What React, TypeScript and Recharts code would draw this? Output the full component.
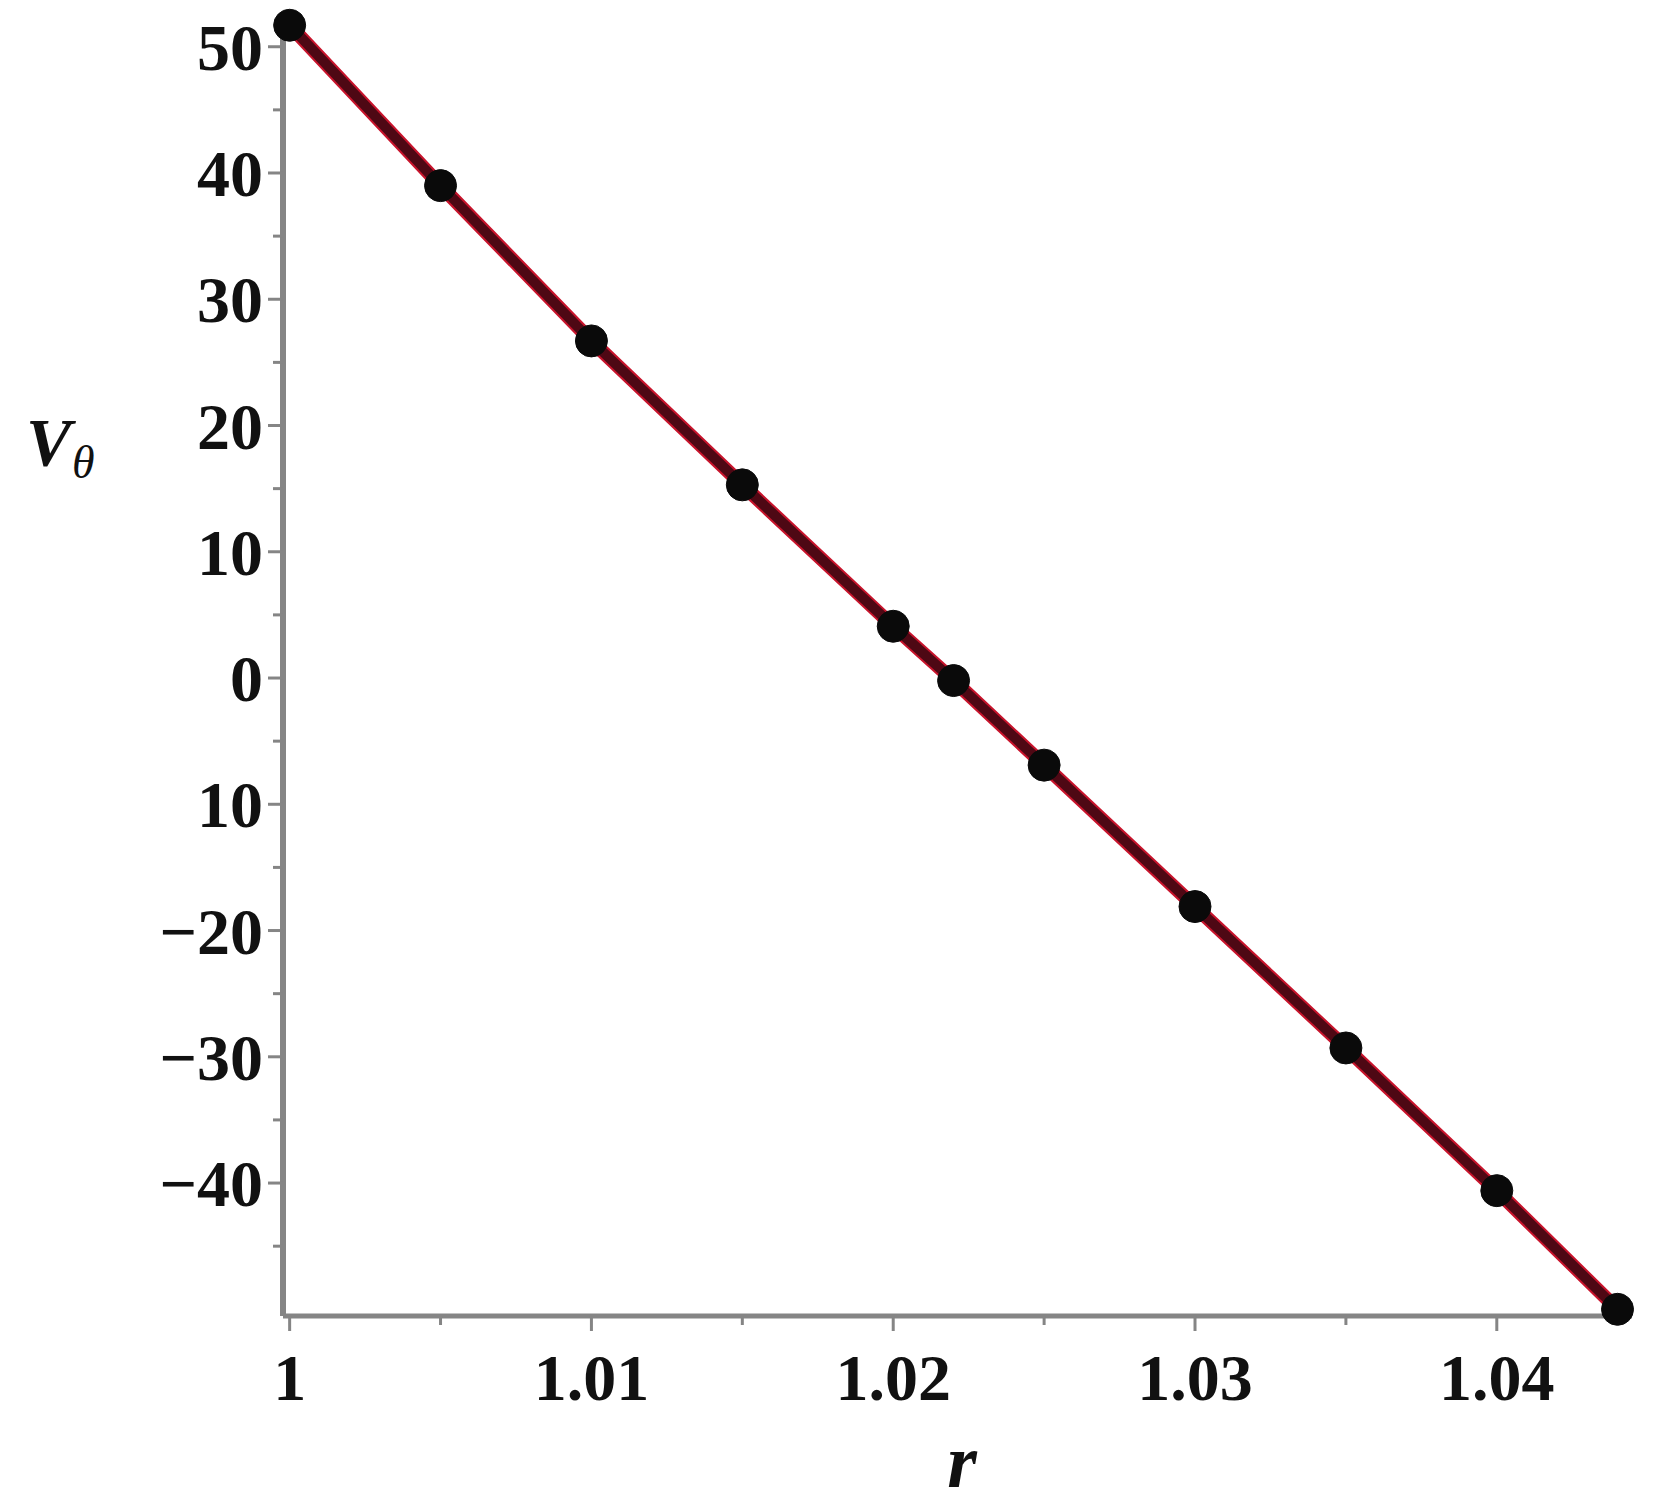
import React from "react";
import { LineChart, Line, XAxis, YAxis } from "recharts";

const rValues = [1, 1.005, 1.01, 1.015, 1.02, 1.022, 1.025, 1.03, 1.035, 1.04, 1.044];
const vTheta = [51.7, 39.0, 26.7, 15.3, 4.1, -0.2, -6.9, -18.1, -29.3, -40.6, -50.0];

const xTicks = [1, 1.005, 1.01, 1.015, 1.02, 1.025, 1.03, 1.035, 1.04];
const xMajorTicks = [1, 1.01, 1.02, 1.03, 1.04];
const xTickLabels = ["1", "1.01", "1.02", "1.03", "1.04"];

const yTicks = [-45, -40, -35, -30, -25, -20, -15, -10, -5, 0, 5, 10, 15, 20, 25, 30, 35, 40, 45, 50];
const yMajorTicks = [50, 40, 30, 20, 10, 0, -10, -20, -30, -40];
const yTickLabels = ["50", "40", "30", "20", "10", "0", "10", "\u221220", "\u221230", "\u221240"];

const xDomain = [0.99978, 1.04448];
const yDomain = [-50.53, 51.88];

const data = rValues.map((r, i) => ({ r, v: vTheta[i] }));

const FONT = "'Liberation Serif', 'DejaVu Serif', serif";
const AXIS_GRAY = "#858585";

const findIdx = (arr: number[], v: number) =>
  arr.findIndex((a) => Math.abs(a - v) < 1e-7);

const YTick = (props: any) => {
  const { x, y, payload } = props;
  const idx = findIdx(yMajorTicks, payload.value);
  const major = idx >= 0;
  return (
    <g>
      <line x1={x - (major ? 15 : 10)} x2={x} y1={y} y2={y} stroke={AXIS_GRAY} strokeWidth={3} />
      {major && (
        <text
          x={x - 20}
          y={y + 23}
          textAnchor="end"
          fontFamily={FONT}
          fontWeight="bold"
          fontSize={66}
          fill="#111"
        >
          {yTickLabels[idx]}
        </text>
      )}
    </g>
  );
};

const XTick = (props: any) => {
  const { x, y, payload } = props;
  const idx = findIdx(xMajorTicks, payload.value);
  const major = idx >= 0;
  return (
    <g>
      <line x1={x} x2={x} y1={y} y2={y + (major ? 15 : 9)} stroke={AXIS_GRAY} strokeWidth={3} />
      {major && (
        <text
          x={x}
          y={y + 84}
          textAnchor="middle"
          fontFamily={FONT}
          fontWeight="bold"
          fontSize={66}
          fill="#111"
        >
          {xTickLabels[idx]}
        </text>
      )}
    </g>
  );
};

export default function App() {
  return (
    <div
      style={{
        position: "absolute",
        left: 0,
        top: 0,
        width: 1663,
        height: 1506,
        background: "#fff",
      }}
    >
      <LineChart
        width={1663}
        height={1506}
        data={data}
        margin={{ top: 23, right: 31, left: 0, bottom: 90 }}
      >
        <XAxis
          dataKey="r"
          type="number"
          domain={xDomain}
          ticks={xTicks}
          interval={0}
          height={100}
          tickSize={0}
          tickMargin={0}
          tickLine={false}
          axisLine={{ stroke: AXIS_GRAY, strokeWidth: 5 }}
          tick={<XTick />}
        />
        <XAxis
          xAxisId="top"
          orientation="top"
          dataKey="r"
          type="number"
          domain={xDomain}
          height={0}
          tick={false}
          tickLine={false}
          axisLine={{ stroke: "#333", strokeWidth: 4 }}
        />
        <YAxis
          type="number"
          domain={yDomain}
          ticks={yTicks}
          interval={0}
          width={283}
          tickSize={0}
          tickMargin={0}
          tickLine={false}
          axisLine={{ stroke: AXIS_GRAY, strokeWidth: 6 }}
          tick={<YTick />}
        />
        <YAxis
          yAxisId="right"
          orientation="right"
          type="number"
          domain={yDomain}
          width={0}
          tick={false}
          tickLine={false}
          axisLine={{ stroke: "#8c8c8c", strokeWidth: 6 }}
        />
        <Line
          dataKey="v"
          type="linear"
          stroke="#c8142c"
          strokeWidth={14}
          dot={false}
          isAnimationActive={false}
        />
        <Line
          dataKey="v"
          type="linear"
          stroke="#4e0814"
          strokeWidth={10}
          dot={{ r: 16, fill: "#0a0a0a", stroke: "#0a0a0a", strokeWidth: 1 }}
          isAnimationActive={false}
        />
      </LineChart>
      <svg
        width={1663}
        height={1506}
        style={{ position: "absolute", left: 0, top: 0, pointerEvents: "none" }}
      >
        <text x={26} y={465} fontFamily={FONT} fontWeight="bold" fontStyle="italic" fontSize={68} fill="#111">
          V
        </text>
        <text x={72} y={478} fontFamily={FONT} fontStyle="italic" fontSize={46} fill="#111">
          θ
        </text>
        <text x={962} y={1487} textAnchor="middle" fontFamily={FONT} fontWeight="bold" fontStyle="italic" fontSize={76} fill="#111">
          r
        </text>
      </svg>
    </div>
  );
}
